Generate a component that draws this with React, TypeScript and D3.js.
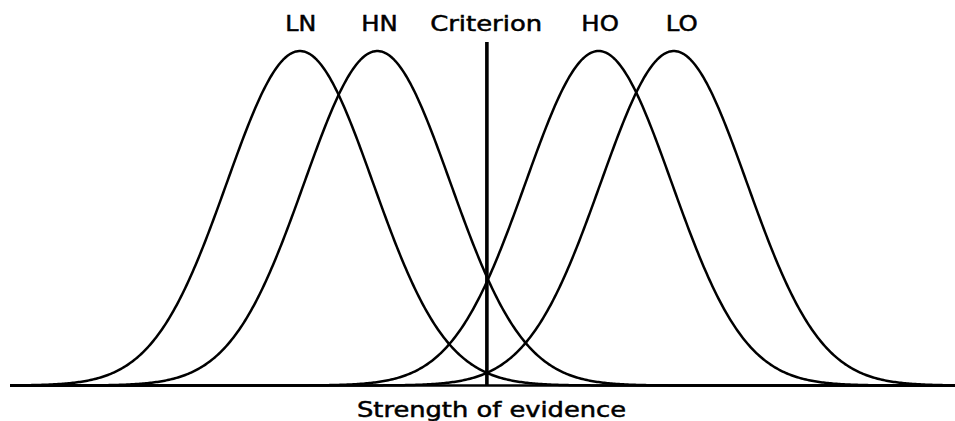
import React from "react";
import * as d3 from "d3";

// Distributions (means in units of SD, criterion at 0)
const curveNames = ["LN", "HN", "HO", "LO"];
const curveMeans = [-2.56, -1.5, 1.53, 2.56];
const curveSD = 1;
const criterion = 0;
const criterionTop = 1.027;
// Label positions (data units) and widths
const labelTexts = ["LN", "HN", "Criterion", "HO", "LO"];
const labelX = [-2.55, -1.47, -0.01, 1.55, 2.67];
const labelWidths = [31, 36.5, 112, 37.5, 32];
const axisLabel = "Strength of evidence";
const axisDomain = [-6.53, 6.41];

const W = 955;
const H = 421;

export default function App() {
  const x = d3.scaleLinear().domain(axisDomain).range([10, 955]);
  const y = d3.scaleLinear().domain([0, 1]).range([385.5, 51]);
  const samples = d3.range(axisDomain[0], axisDomain[1] + 0.001, 0.02);
  const line = d3
    .line<number[]>()
    .x((d) => x(d[0]))
    .y((d) => y(d[1]))
    .curve(d3.curveLinear);

  return (
    <svg
      width={W}
      height={H}
      style={{ position: "absolute", left: 0, top: 0 }}
      fontFamily="DejaVu Sans, Verdana, sans-serif"
    >
      <rect width={W} height={H} fill="#fff" />
      {curveMeans.map((m, i) => {
        const pts = samples.map((v) => [
          v,
          Math.exp(-((v - m) * (v - m)) / (2 * curveSD * curveSD)),
        ]);
        return (
          <path
            key={curveNames[i]}
            d={line(pts) || ""}
            fill="none"
            stroke="#000"
            strokeWidth={2.5}
            strokeLinejoin="round"
          />
        );
      })}
      <line
        x1={x(axisDomain[0])}
        x2={x(axisDomain[1])}
        y1={y(0)}
        y2={y(0)}
        stroke="#000"
        strokeWidth={2.4}
      />
      <line
        x1={x(criterion)}
        x2={x(criterion)}
        y1={y(criterionTop)}
        y2={y(0)}
        stroke="#000"
        strokeWidth={3.6}
      />
      {labelTexts.map((t, i) => (
        <text
          key={t}
          x={x(labelX[i]) - labelWidths[i] / 2}
          y={30.5}
          fontSize={21}
          textLength={labelWidths[i]}
          lengthAdjust="spacingAndGlyphs"
          fill="#000"
          stroke="#000"
          strokeWidth={0.5}
        >
          {t}
        </text>
      ))}
      <text
        x={357}
        y={416.5}
        fontSize={21}
        textLength={269}
        lengthAdjust="spacingAndGlyphs"
        fill="#000"
        stroke="#000"
        strokeWidth={0.5}
      >
        {axisLabel}
      </text>
    </svg>
  );
}
